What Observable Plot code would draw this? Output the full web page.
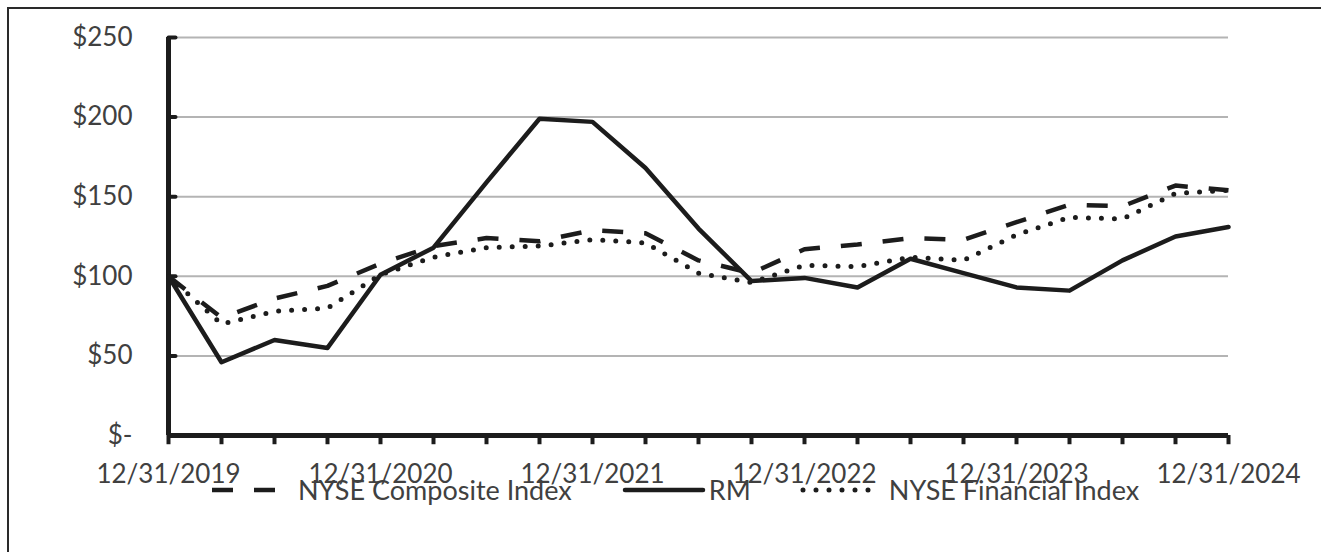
<!DOCTYPE html>
<html>
<head>
<meta charset="utf-8">
<script src="https://cdn.jsdelivr.net/npm/d3@7"></script>
<script src="https://cdn.jsdelivr.net/npm/@observablehq/plot@0.6"></script>
<style>
  html, body { margin: 0; padding: 0; background: #fff; overflow: hidden; }
  body { width: 1321px; height: 552px; position: relative; font-family: Lato, sans-serif; color: #404040; }
  #frame { position: absolute; left: 7px; top: 7px; width: 1400px; height: 600px; border: 2.5px solid #2a2a2a; box-sizing: border-box; }
  #chart { position: absolute; left: 0; top: 0; }
  #legend { position: absolute; left: 212px; top: 478px; height: 24px; display: flex; align-items: center; font-size: 27px; line-height: 24px; color: #404040; white-space: nowrap; }
  #legend .item { display: flex; align-items: center; height: 24px; }
  #legend svg { display: block; }
  #legend span { display: block; line-height: 24px; }
</style>
</head>
<body>
<div id="frame"></div>
<div id="chart"></div>
<div id="legend"></div>
<script>
const quarters = [
  "12/31/2019","3/31/2020","6/30/2020","9/30/2020",
  "12/31/2020","3/31/2021","6/30/2021","9/30/2021",
  "12/31/2021","3/31/2022","6/30/2022","9/30/2022",
  "12/31/2022","3/31/2023","6/30/2023","9/30/2023",
  "12/31/2023","3/31/2024","6/30/2024","9/30/2024",
  "12/31/2024"
];
const yearLabels = ["12/31/2019","12/31/2020","12/31/2021","12/31/2022","12/31/2023","12/31/2024"];
const yTicks = [0, 50, 100, 150, 200, 250];

const rm            = [100, 46, 60, 55, 101, 118, 159, 199, 197, 168, 130, 97, 99, 93, 111, 102, 93, 91, 110, 125, 131];
const nyseComposite = [100, 74, 86, 94, 108, 119, 124, 122, 129, 127, 110, 102, 117, 120, 124, 123, 134, 145, 144, 157, 154];
const nyseFinancial = [100, 70, 78, 80, 101, 112, 118, 119, 123, 121, 102, 96, 107, 106, 112, 110, 126, 137, 136, 152, 154];

const seriesNames = ["NYSE Composite Index", "RM", "NYSE Financial Index"];

const rows = quarters.map((q, i) => ({q, rm: rm[i], composite: nyseComposite[i], financial: nyseFinancial[i]}));

const ink = "#1c1c1c";
const styles = {
  "NYSE Composite Index": {strokeWidth: 4.5, strokeDasharray: "21,21", strokeLinecap: "butt"},
  "RM": {strokeWidth: 4.5, strokeDasharray: null, strokeLinecap: "round"},
  "NYSE Financial Index": {strokeWidth: 5, strokeDasharray: "0,13", strokeLinecap: "round"}
};

const W = 1321, H = 500, x0 = 168, x1 = 1228, yTop = 37, yBottom = 435;

// short horizontal stub drawn to the right of the y axis at each gridline
const stub = {draw(context, length) { context.moveTo(0, 0); context.lineTo(0, -length); }};

const chart = Plot.plot({
  width: W,
  height: H,
  marginLeft: x0,
  marginRight: W - x1,
  marginTop: yTop,
  marginBottom: H - yBottom,
  style: {fontFamily: "Lato, sans-serif", fontSize: "26px", color: "#404040", background: "transparent", overflow: "visible"},
  x: {type: "point", domain: quarters, padding: 0},
  y: {domain: [0, 250]},
  marks: [
    Plot.ruleY(yTicks.filter(d => d > 0), {stroke: "#b4b4b4", strokeWidth: 2}),
    Plot.axisY({ticks: yTicks, tickSize: 0, tickPadding: 36, tickFormat: d => d === 0 ? "$-" : "$" + d, fill: "#404040", label: null}),
    Plot.vector(yTicks.filter(d => d > 0), {x: () => quarters[0], y: d => d, rotate: 90, length: 7, anchor: "start", shape: stub, stroke: ink, strokeWidth: 4}),
    Plot.ruleX(quarters, {x: d => d, y1: 0, y2: -5.8, stroke: ink, strokeWidth: 4, clip: false}),
    Plot.axisX({ticks: yearLabels, tickSize: 0, tickPadding: 29, fill: "#404040", label: null}),
    Plot.ruleX([quarters[0]], {stroke: ink, strokeWidth: 5}),
    Plot.ruleY([0], {stroke: ink, strokeWidth: 5}),
    Plot.line(rows, {x: "q", y: "composite", stroke: ink, ...styles["NYSE Composite Index"], strokeLinejoin: "round"}),
    Plot.line(rows, {x: "q", y: "financial", stroke: ink, ...styles["NYSE Financial Index"], strokeLinejoin: "round"}),
    Plot.line(rows, {x: "q", y: "rm", stroke: ink, ...styles["RM"], strokeLinejoin: "round"})
  ]
});
document.getElementById("chart").appendChild(chart);

// legend
const legend = document.getElementById("legend");
const layout = {
  "NYSE Composite Index": {w: 80, before: 0, after: 6},
  "RM": {w: 84, before: 50, after: 3},
  "NYSE Financial Index": {w: 72, before: 49, after: 17}
};
seriesNames.forEach(name => {
  const s = styles[name];
  const L = layout[name];
  const item = document.createElement("div");
  item.className = "item";
  item.style.marginLeft = L.before + "px";
  const dash = s.strokeDasharray ? `stroke-dasharray="${s.strokeDasharray}"` : "";
  const start = s.strokeLinecap === "round" ? 3 : 0;
  item.innerHTML = `<svg width="${L.w}" height="12" style="margin-right:${L.after}px"><line x1="${start}" y1="6" x2="${L.w - start}" y2="6" stroke="${ink}" stroke-width="${s.strokeWidth}" stroke-linecap="${s.strokeLinecap}" ${dash}/></svg><span>${name}</span>`;
  legend.appendChild(item);
});
</script>
</body>
</html>
